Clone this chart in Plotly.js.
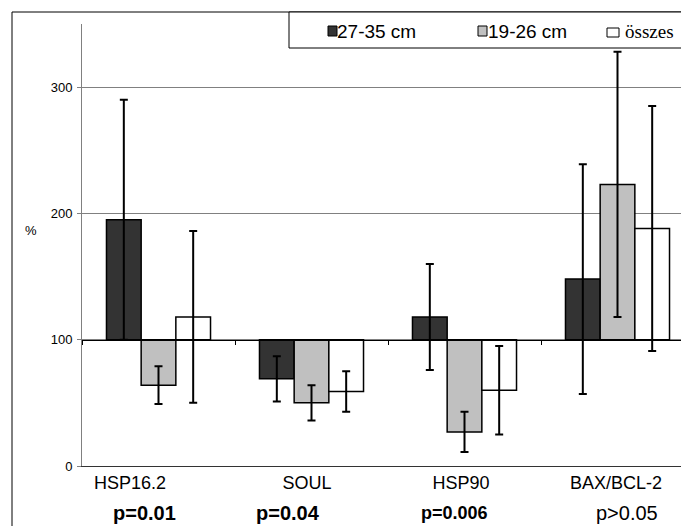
<!DOCTYPE html>
<html><head><meta charset="utf-8">
<script src="https://cdn.plot.ly/plotly-3.0.1.min.js"></script>
<style>html,body{margin:0;padding:0;background:#fff}</style>
</head><body><div id="chart" style="width:681px;height:526px"></div>
<script>
// ---- data ----
const categories = ['HSP16.2', 'SOUL', 'HSP90', 'BAX/BCL-2'];
const seriesNames = ['27-35 cm', '19-26 cm', 'összes'];
const valsLarge = [195, 69, 118, 148];
const errLarge  = [95, 18, 42, 91];
const valsSmall = [64, 50, 27, 223];
const errSmall  = [15, 14, 16, 105];
const valsAll   = [118, 59, 60, 188];
const errAll    = [68, 16, 35, 97];
const pLabels = ['p=0.01', 'p=0.04', 'p=0.006', 'p>0.05'];
const yTickVals = [0, 100, 200, 300];
const yTickText = ['0', '100', '200', '300'];
const baseline = 100;

// ---- layout geometry helpers (pixels -> paper) ----
const L = 82, T = 24, W = 599, H = 442, B = T + H;
const px = v => (v - L) / W;
const py = v => (B - v) / H;

const xIdx = categories.map((c, i) => i);
const colors = ['#333333', '#c0c0c0', '#ffffff'];
const vals = [valsLarge, valsSmall, valsAll];
const errs = [errLarge, errSmall, errAll];

const traces = vals.map((v, k) => ({
  type: 'bar',
  name: seriesNames[k],
  x: xIdx,
  y: v.map(d => d - baseline),
  base: baseline,
  marker: {color: colors[k], line: {color: '#000', width: 1.5}},
  error_y: {type: 'data', array: errs[k], visible: true, color: '#000', thickness: 2, width: 4},
  showlegend: false,
  hoverinfo: 'skip'
}));
traces.push({type: 'scatter', x: [], y: [], xaxis: 'x2', yaxis: 'y', showlegend: false, hoverinfo: 'skip'});

const FONT = 'Liberation Sans, Arial, sans-serif';
const SERIF = 'Liberation Serif, Times New Roman, serif';
const xr = [-0.5, -0.5 + W / 153];

const annotations = [];
// p-values
const pX = [144, 288, 454.5, 627];
const pSize = [20, 20, 18, 20];
const pBoldFlags = [true, true, true, false];
pLabels.forEach((t, i) => annotations.push({
  xref: 'paper', yref: 'paper', x: px(pX[i]), y: py(513), xanchor: 'center', yanchor: 'middle',
  text: pBoldFlags[i] ? '<b>' + t + '</b>' : t, showarrow: false,
  font: {family: FONT, size: pSize[i], color: '#000'}
}));
// % label
annotations.push({xref: 'paper', yref: 'paper', x: px(31), y: py(230), xanchor: 'center', yanchor: 'middle',
  text: '%', showarrow: false, font: {family: FONT, size: 13, color: '#000'}});
// legend texts
const legTextX = [335, 486, 623];
const legFonts = [FONT, FONT, SERIF];
const legSizes = [19, 19, 19];
seriesNames.forEach((n, i) => annotations.push({
  xref: 'paper', yref: 'paper', x: px(legTextX[i]), y: py(31), xanchor: 'left', yanchor: 'middle',
  text: n, showarrow: false, font: {family: legFonts[i], size: legSizes[i], color: '#000'}
}));

const shapes = [
  // outer chart border
  {type: 'rect', xref: 'paper', yref: 'paper', x0: px(12), x1: px(700), y0: py(540), y1: py(12),
   line: {color: '#000', width: 1}, layer: 'below'},
  // legend box
  {type: 'rect', xref: 'paper', yref: 'paper', x0: px(289), x1: px(700), y0: py(48), y1: py(12),
   line: {color: '#000', width: 1}, fillcolor: '#fff', layer: 'above'}
];
const legSq = [[328, 337, 26, 36], [478, 487, 26, 36], [607, 619, 28, 37]];
legSq.forEach((s, i) => shapes.push({type: 'rect', xref: 'paper', yref: 'paper',
  x0: px(s[0]), x1: px(s[1]), y0: py(s[3]), y1: py(s[2]),
  line: {color: '#000', width: 1}, fillcolor: colors[i], layer: 'above'}));

const layout = {
  width: 681, height: 526,
  margin: {l: L, r: 681 - L - W, t: T, b: 526 - B, pad: 0},
  paper_bgcolor: '#fff', plot_bgcolor: '#fff',
  barmode: 'group', bargap: 0.32, bargroupgap: 0,
  showlegend: false,
  font: {family: FONT, color: '#000'},
  xaxis: {
    type: 'linear', range: xr, tickmode: 'array',
    tickvals: [-0.186, 0.97, 1.977, 2.99], ticktext: categories,
    ticks: '', showgrid: false, zeroline: false,
    showline: true, linecolor: '#333', linewidth: 1,
    tickfont: {family: FONT, size: 18, color: '#000'}, fixedrange: true
  },
  xaxis2: {
    type: 'linear', range: xr, overlaying: 'x', anchor: 'free', position: baseline / 350, side: 'bottom',
    tickmode: 'array', tickvals: [-0.5, 0.5, 1.5, 2.5, 3.5], ticks: 'outside', ticklen: 4, tickcolor: '#000', tickwidth: 1,
    showticklabels: false, showgrid: false, zeroline: false,
    showline: true, linecolor: '#000', linewidth: 1
  },
  yaxis: {
    range: [0, 350], tickmode: 'array', tickvals: yTickVals, ticktext: yTickText,
    ticks: 'outside', ticklen: 4, tickcolor: '#808080',
    showline: true, linecolor: '#808080', linewidth: 1,
    showgrid: true, gridcolor: '#808080', gridwidth: 1, zeroline: false,
    tickfont: {family: FONT, size: 13, color: '#000'}, ticklabelstandoff: 2
  },
  annotations: annotations,
  shapes: shapes
};

Plotly.newPlot('chart', traces, layout, {staticPlot: true, displayModeBar: false});
</script></body></html>
